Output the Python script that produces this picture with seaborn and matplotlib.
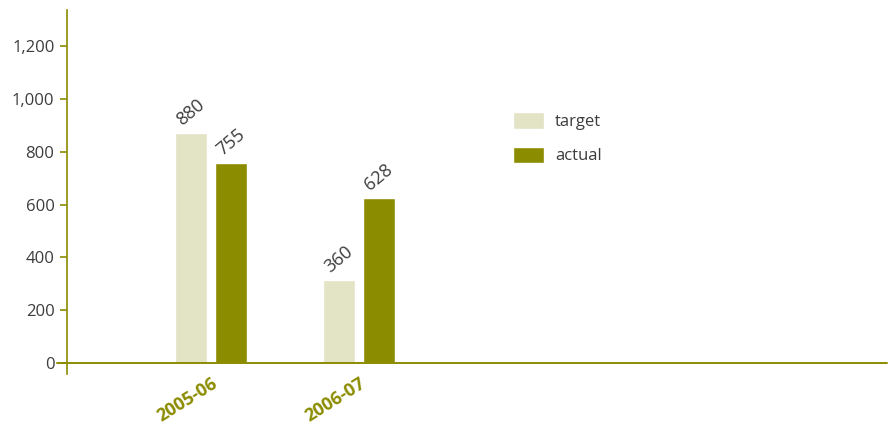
import matplotlib
matplotlib.use("Agg")
import matplotlib.pyplot as plt
import seaborn as sns
import pandas as pd

years = ["2005-06", "2006-07"]
series = ["target", "actual"]
target_bars = [872, 315]
actual_bars = [758, 626]
target_labels = ["880", "360"]
actual_labels = ["755", "628"]
yticks = [0, 200, 400, 600, 800, 1000, 1200]

OLIVE = "#8b8c00"
PALE = "#e3e3c5"
GREY = "#3c3c3c"

sns.set_style("white")
plt.rcParams["font.family"] = ["Open Sans", "DejaVu Sans"]

df = pd.DataFrame({
    "year": years * 2,
    "series": [series[0]] * 2 + [series[1]] * 2,
    "value": target_bars + actual_bars,
})
labels = target_labels + actual_labels

fig = plt.figure(figsize=(8.93, 4.25), dpi=100)
ax = fig.add_axes([67 / 893, 1 - 374 / 425, 820 / 893, 364 / 425])

sns.barplot(data=df, x="year", y="value", hue="series", hue_order=series,
            palette=[PALE, OLIVE], width=0.54, gap=0.2, saturation=1,
            ax=ax, legend=True)

ax.set_xlim(-0.973, 4.568)
ax.set_ylim(-41.7, 1338)
ax.set_yticks(yticks)
ax.set_yticklabels([f"{v:,}" for v in yticks])
ax.set_xlabel("")
ax.set_ylabel("")

for s in ["top", "right", "bottom"]:
    ax.spines[s].set_visible(False)
ax.spines["left"].set_color(OLIVE)
ax.spines["left"].set_linewidth(1.2)
ax.axhline(0, xmin=-0.012, xmax=1, color=OLIVE, lw=1.4, clip_on=False)

ax.tick_params(axis="y", direction="out", length=5, width=1.2, color=OLIVE,
               labelsize=12, labelcolor=GREY, pad=4, left=True)
ax.tick_params(axis="x", length=0, pad=0)
for lab in ax.get_xticklabels():
    lab.set_rotation(32)
    lab.set_ha("right")
    lab.set_va("top")
    lab.set_rotation_mode("anchor")
    lab.set_fontweight("bold")
    lab.set_color(OLIVE)
    lab.set_fontsize(13)

# value labels
i = 0
for cont in ax.containers:
    for bar in cont:
        x = bar.get_x() + bar.get_width() / 2
        h = bar.get_height()
        ax.annotate(labels[i], (x, h), xytext=(0, 15), textcoords="offset points",
                    ha="center", va="center", rotation=40, fontsize=13, color=GREY)
        i += 1

leg = ax.legend(loc="upper left", bbox_to_anchor=(513 / 893, 1 - 112 / 425),
                bbox_transform=fig.transFigure, frameon=False, fontsize=12,
                handlelength=1.86, handleheight=1.15, labelspacing=1.0,
                handletextpad=0.66, borderpad=0, borderaxespad=0)
for t in leg.get_texts():
    t.set_color(GREY)

fig.savefig("out.png", dpi=100)
